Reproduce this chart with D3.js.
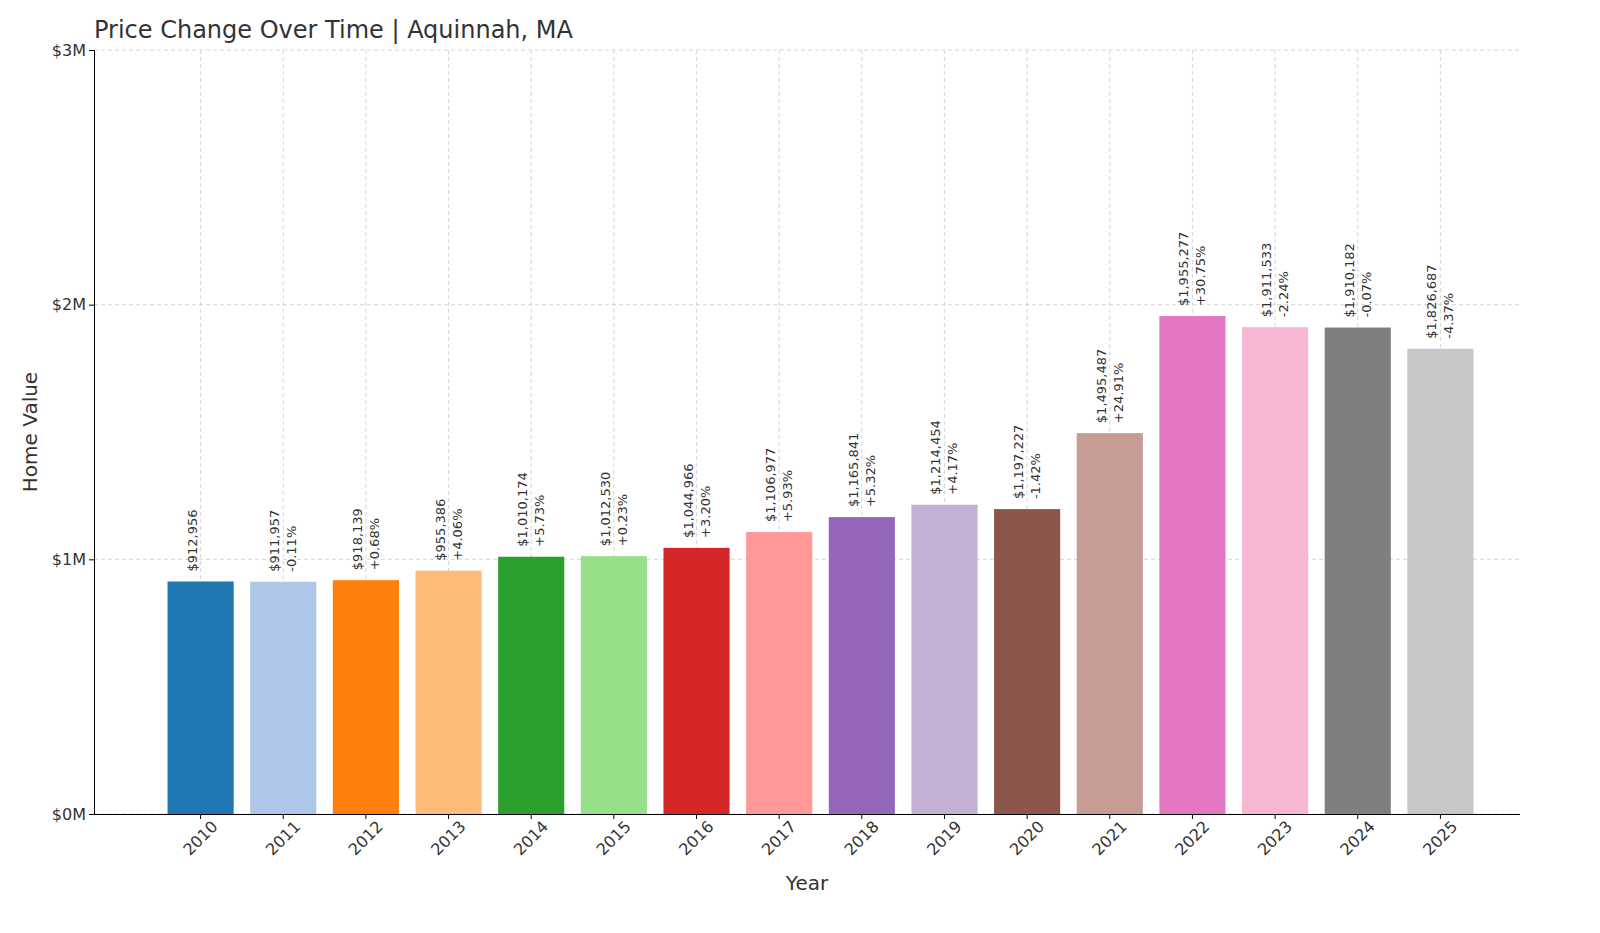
<!DOCTYPE html>
<html><head><meta charset="utf-8">
<script src="https://cdn.jsdelivr.net/npm/d3@7"></script>
<style>body{margin:0;background:#fff;font-family:"DejaVu Sans",sans-serif;}</style>
</head><body><div id="chart"></div>
<script>
const years = ["2010","2011","2012","2013","2014","2015","2016","2017","2018","2019","2020","2021","2022","2023","2024","2025"];
const values = [912956,911957,918139,955386,1010174,1012530,1044966,1106977,1165841,1214454,1197227,1495487,1955277,1911533,1910182,1826687];
const changes = [null,"-0.11%","+0.68%","+4.06%","+5.73%","+0.23%","+3.20%","+5.93%","+5.32%","+4.17%","-1.42%","+24.91%","+30.75%","-2.24%","-0.07%","-4.37%"];
const colors = ["#1f77b4","#aec7e8","#ff7f0e","#ffbb78","#2ca02c","#98df8a","#d62728","#ff9896","#9467bd","#c5b0d5","#8c564b","#c49c94","#e377c2","#f7b6d2","#7f7f7f","#c7c7c7"];
const yTicks = [0,1000000,2000000,3000000];

const W = 1600, H = 933;
const mLeft = 94, mRight = 1520, mTop = 50, mBottom = 814;

const svg = d3.select("#chart").append("svg").attr("width", W).attr("height", H);

const x = d3.scaleBand().domain(years).range([151, 1490]).padding(0.2);
const y = d3.scaleLinear().domain([0, 3000000]).range([mBottom, mTop]);

// grid
svg.append("g").selectAll("line").data(yTicks).join("line")
  .attr("x1", mLeft).attr("x2", mRight).attr("y1", d => y(d)).attr("y2", d => y(d))
  .attr("stroke", "#ccc").attr("stroke-dasharray", "4,3").attr("stroke-width", 0.8);
svg.append("g").selectAll("line").data(years).join("line")
  .attr("x1", d => x(d) + x.bandwidth()/2).attr("x2", d => x(d) + x.bandwidth()/2)
  .attr("y1", mTop).attr("y2", mBottom)
  .attr("stroke", "#ccc").attr("stroke-dasharray", "4,3").attr("stroke-width", 0.8);

// bars
svg.append("g").selectAll("rect").data(years).join("rect")
  .attr("x", d => x(d)).attr("width", x.bandwidth())
  .attr("y", (d, i) => y(values[i])).attr("height", (d, i) => mBottom - y(values[i]))
  .attr("fill", (d, i) => colors[i]);

// labels
const fmt = d3.format(",");
const lab = svg.append("g").selectAll("g").data(years).join("g")
  .attr("transform", (d, i) => `translate(${x(d) + x.bandwidth()/2},${y(values[i]) - 10}) rotate(-90)`);
lab.append("text").attr("x", 0).attr("y", -4)
  .attr("font-size", 13).attr("fill", "#333")
  .text((d, i) => "$" + fmt(values[i]));
lab.append("text").attr("x", 0).attr("y", 13)
  .attr("font-size", 13).attr("fill", "#333")
  .text((d, i) => changes[i] || "");

// axes
const yAxis = d3.axisLeft(y).tickValues(yTicks).tickFormat(d => "$" + (d/1e6) + "M").tickSize(5);
const gy = svg.append("g").attr("transform", `translate(${mLeft},0)`).call(yAxis);
gy.selectAll("text").attr("font-size", 16).attr("fill", "#333").attr("font-family", "DejaVu Sans");
gy.select(".domain").attr("stroke", "#000");

const xAxis = d3.axisBottom(x).tickSize(5);
const gx = svg.append("g").attr("transform", `translate(0,${mBottom})`).call(xAxis);
gx.select(".domain").attr("d", `M${mLeft},0.5H${mRight}`).attr("stroke", "#000");
gx.selectAll("text").attr("font-size", 16).attr("fill", "#333").attr("font-family", "DejaVu Sans")
  .attr("text-anchor", "end").attr("dx", "0.2em").attr("dy", "0.9em")
  .attr("transform", "rotate(-45)");

svg.append("text").attr("x", (mLeft + mRight)/2).attr("y", 890).attr("text-anchor", "middle")
  .attr("font-size", 20).attr("fill", "#333").text("Year");
svg.append("text").attr("transform", `translate(37,${(mTop + mBottom)/2}) rotate(-90)`)
  .attr("text-anchor", "middle").attr("font-size", 20).attr("fill", "#333").text("Home Value");
svg.append("text").attr("x", mLeft).attr("y", 38).attr("font-size", 24).attr("fill", "#333")
  .text("Price Change Over Time | Aquinnah, MA");
</script></body></html>
